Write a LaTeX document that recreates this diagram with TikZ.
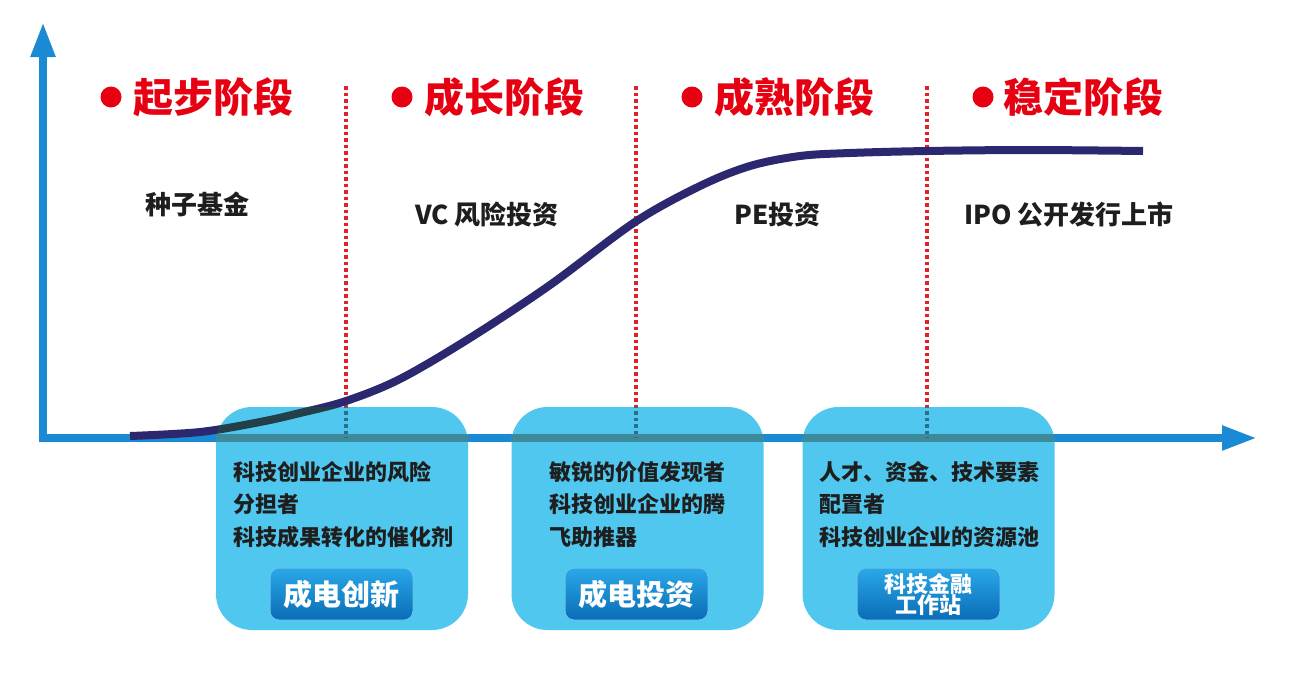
\documentclass[tikz,border=0pt]{standalone}
\usepackage{fontspec}
\setmainfont{Noto Sans CJK SC}
\usetikzlibrary{arrows.meta}
\definecolor{axisblue}{HTML}{1A8AD4}
\definecolor{navy}{HTML}{2B2870}
\definecolor{titlered}{HTML}{E60012}
\definecolor{dotred}{HTML}{E3202A}
\definecolor{boxcyan}{HTML}{4FC7EE}
\definecolor{axisdark}{HTML}{3C8A9B}
\definecolor{curvedark}{HTML}{233F4A}
\definecolor{dotdark}{HTML}{2A6E8A}
\definecolor{btntop}{HTML}{2AA8E8}
\definecolor{btnbot}{HTML}{0A6CB6}
\definecolor{txt}{HTML}{1E1E1E}
\newcommand\drawcurve[1]{\draw[#1] plot[smooth,tension=0.55] coordinates {(130,436) (200,432) (260,422) (300,413) (346,401) (400,379) (470,338) (550,285) (635,222) (700,186) (750,166) (800,156) (850,153) (927,151) (1030,150) (1143,151)};}
\tikzset{
  axisline/.style={line width=8pt,-{Triangle[length=35pt,width=23pt]}},
  sepline/.style={line width=3.5pt,dash pattern=on 3.5pt off 3pt},
  curveline/.style={line width=8pt},
  phase/.style={text=titlered,font=\bfseries\fontsize{40}{44}\selectfont,inner sep=0pt,anchor=west},
  bullet/.style={circle,fill=titlered,minimum size=21pt,inner sep=0pt},
  fund/.style={text=txt,font=\bfseries\fontsize{26}{28}\selectfont,inner sep=0pt,anchor=west},
  panel/.style={fill=boxcyan,rounded corners=36pt,minimum width=252pt,minimum height=223pt,inner sep=0pt},
  role/.style={text=txt,font=\bfseries\fontsize{22}{32.5}\selectfont,inner sep=0pt,align=left,anchor=north west},
  btn/.style={rounded corners=9pt,top color=btntop,bottom color=btnbot,draw=btntop!70!white,line width=1pt,minimum width=143pt,minimum height=52pt,inner sep=0pt,text=white,font=\bfseries\fontsize{29}{30}\selectfont,align=center},
}
\begin{document}
\begin{tikzpicture}[x=1pt,y=-1pt]
\useasboundingbox (0,0) rectangle (1289,673);
\fill[white] (0,0) rectangle (1289,673);
% axes
\coordinate (O) at (43,438);
\coordinate (ytip) at (43,22);
\coordinate (xstart) at (39,438);
\coordinate (xtip) at (1257,438);
\draw[axisline,axisblue] (xstart) -- (xtip);
\draw[axisline,axisblue] (O) -- (ytip);
% separators
\coordinate (s1t) at (346,86); \coordinate (s1b) at (346,438);
\coordinate (s2t) at (636,86); \coordinate (s2b) at (636,438);
\coordinate (s3t) at (927,86); \coordinate (s3b) at (927,438);
\draw[sepline,dotred] (s1t) -- (s1b);
\draw[sepline,dotred] (s2t) -- (s2b);
\draw[sepline,dotred] (s3t) -- (s3b);
% curve
\drawcurve{curveline,navy}
% phase titles
\node[bullet] (d1) at (111,97) {};
\node[phase] (p1) at (133,97) {起步阶段};
\node[bullet] (d2) at (402,97) {};
\node[phase] (p2) at (424,97) {成长阶段};
\node[bullet] (d3) at (692,97) {};
\node[phase] (p3) at (714,97) {成熟阶段};
\node[bullet] (d4) at (983,97) {};
\node[phase] (p4) at (1003,97) {稳定阶段};
% fund labels
\node[fund] (f1) at (145,204) {种子基金};
\node[fund] (f2) at (415,215) {VC 风险投资};
\node[fund] (f3) at (734,215) {PE投资};
\node[fund] (f4) at (964,215) {IPO 公开发行上市};
% panels
\node[panel] (b1) at (342,518.5) {};
\node[panel] (b2) at (637.5,518.5) {};
\node[panel] (b3) at (928.5,518.5) {};
% overlay of lines seen through panels
\begin{scope}
\clip[rounded corners=36pt] (b1.south west) rectangle (b1.north east)
  (b2.south west) rectangle (b2.north east)
  (b3.south west) rectangle (b3.north east);
\draw[line width=8pt,axisdark] (xstart) -- (xtip);
\draw[sepline,dotdark] (s1t) -- (s1b);
\draw[sepline,dotdark] (s2t) -- (s2b);
\draw[sepline,dotdark] (s3t) -- (s3b);
\drawcurve{curveline,curvedark}
\end{scope}
% panel texts
\node[role] (r1) at (233,461) {科技创业企业的风险\\分担者\\科技成果转化的催化剂};
\node[role] (r2) at (549,461) {敏锐的价值发现者\\科技创业企业的腾\\飞助推器};
\node[role] (r3) at (819,461) {人才、资金、技术要素\\配置者\\科技创业企业的资源池};
% buttons
\node[btn] (k1) at (341.5,594) {成电创新};
\node[btn] (k2) at (636.5,594) {成电投资};
\node[btn,font=\bfseries\fontsize{22}{21}\selectfont] (k3) at (928.5,594) {科技金融\\工作站};
\end{tikzpicture}
\end{document}
